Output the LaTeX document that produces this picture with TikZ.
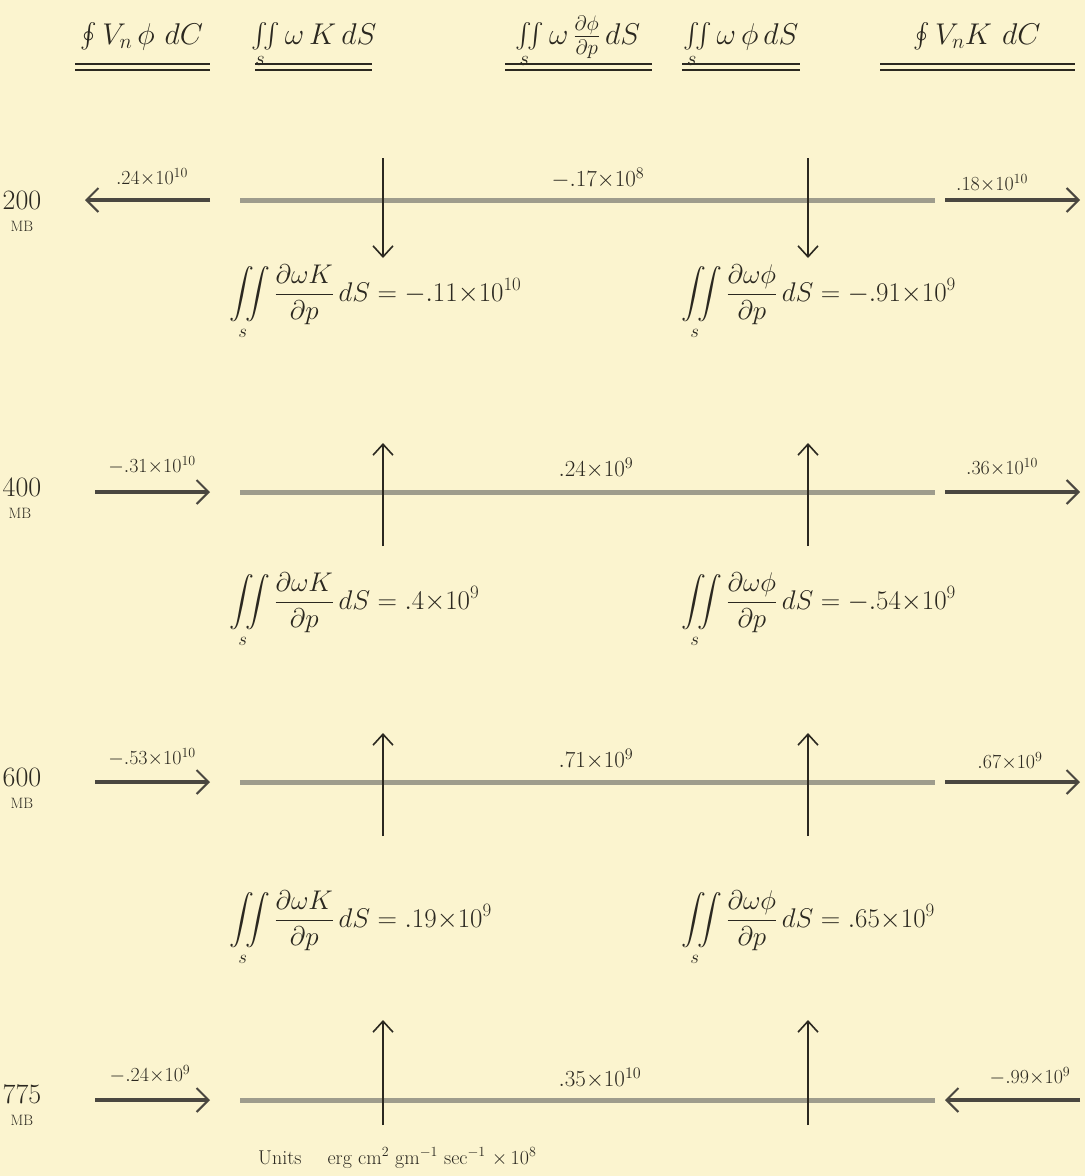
\RequirePackage{fix-cm}
\documentclass[tikz,border=0pt]{standalone}
\usepackage{amsmath}
\usetikzlibrary{arrows.meta}
\definecolor{paper}{HTML}{FBF4CF}
\definecolor{ink}{HTML}{2B2820}
\definecolor{levelgray}{HTML}{9E9C8C}
\definecolor{fluxgray}{HTML}{4A4740}
\begin{document}
\begin{tikzpicture}[x=1pt,y=-1pt,
  hdr/.style={text=ink,font=\fontsize{30}{34}\selectfont,inner sep=1pt,anchor=base},
  intlab/.style={text=ink,font=\fontsize{27}{30}\selectfont,inner sep=1pt,anchor=west},
  numlab/.style={text=ink,font=\fontsize{20}{24}\selectfont,inner sep=1pt},
  cenlab/.style={text=ink,font=\fontsize{23}{26}\selectfont,inner sep=1pt},
  plev/.style={text=ink,font=\fontsize{28}{30}\selectfont,inner sep=0pt},
  mb/.style={text=ink,font=\fontsize{15}{18}\selectfont,inner sep=0pt},
  ul/.style={ink,line width=2.2pt},
  levelline/.style={levelgray,line width=5pt},
  flux/.style={fluxgray,line width=3.5pt,-{Straight Barb[length=12pt,width=24pt,line width=2pt]}},
  vert/.style={ink,line width=1.8pt,-{Straight Barb[length=11pt,width=20pt,line width=1.6pt]}}]
\fill[paper] (0,0) rectangle (1085,1176);
\useasboundingbox (0,0) rectangle (1085,1176);

% header
\node[hdr] (h1) at (142,44) {$\oint V_n\,\phi\,\,dC$};
\node[hdr] (h2) at (314,44) {$\iint\limits_s \omega\, K\,dS$};
\node[hdr] (h3) at (578,44) {$\iint\limits_s \omega\,\frac{\partial\phi}{\partial p}\,dS$};
\node[hdr] (h4) at (741,44) {$\iint\limits_s \omega\,\phi\,dS$};
\node[hdr] (h5) at (977,44) {$\oint V_n K\,\,dC$};
\foreach \a/\b in {75/210,255/372,505/652,682/800,880/1075}{
  \draw[ul] (\a,64) -- (\b,64);
  \draw[ul] (\a,70) -- (\b,70);
}

% pressure level labels
\node[plev] (p200) at (22,200) {200};
\node[mb] (m200) at (22,226) {MB};
\node[plev] (p400) at (22,487) {400};
\node[mb] (m400) at (20,513) {MB};
\node[plev] (p600) at (22,777) {600};
\node[mb] (m600) at (22,803) {MB};
\node[plev] (p775) at (22,1094) {775};
\node[mb] (m775) at (22,1120) {MB};

% level lines
\foreach \n/\y in {a/200,b/492,c/782,d/1100}{
  \coordinate (L\n) at (240,\y);
  \coordinate (R\n) at (935,\y);
  \draw[levelline] (L\n) -- (R\n);
}

% ----- 200 MB
\coordinate (fa1s) at (210,200); \coordinate (fa1e) at (85,200);
\coordinate (fa2s) at (945,200); \coordinate (fa2e) at (1080,200);
\draw[flux] (fa1s) -- (fa1e);
\draw[flux] (fa2s) -- (fa2e);
\node[numlab] (na1) at (152,177) {$.24{\times}10^{10}$};
\node[numlab] (na2) at (992,183) {$.18{\times}10^{10}$};
\node[cenlab] (nac) at (598,178) {$-.17{\times}10^{8}$};
\coordinate (va1s) at (383,158); \coordinate (va1e) at (383,258);
\coordinate (va2s) at (808,158); \coordinate (va2e) at (808,258);
\draw[vert] (va1s) -- (va1e);
\draw[vert] (va2s) -- (va2e);

\node[intlab] (i1l) at (228,302) {$\displaystyle\iint\limits_s \frac{\partial\omega K}{\partial p}\,dS = -.11{\times}10^{10}$};
\node[intlab] (i1r) at (680,302) {$\displaystyle\iint\limits_s \frac{\partial\omega\phi}{\partial p}\,dS = -.91{\times}10^{9}$};

% ----- 400 MB
\coordinate (fb1s) at (95,492); \coordinate (fb1e) at (210,492);
\coordinate (fb2s) at (945,492); \coordinate (fb2e) at (1080,492);
\draw[flux] (fb1s) -- (fb1e);
\draw[flux] (fb2s) -- (fb2e);
\node[numlab] (nb1) at (152,465) {$-.31{\times}10^{10}$};
\node[numlab] (nb2) at (1002,467) {$.36{\times}10^{10}$};
\node[cenlab] (nbc) at (596,468) {$.24{\times}10^{9}$};
\coordinate (vb1s) at (383,546); \coordinate (vb1e) at (383,443);
\coordinate (vb2s) at (808,546); \coordinate (vb2e) at (808,443);
\draw[vert] (vb1s) -- (vb1e);
\draw[vert] (vb2s) -- (vb2e);

\node[intlab] (i2l) at (228,610) {$\displaystyle\iint\limits_s \frac{\partial\omega K}{\partial p}\,dS = .4{\times}10^{9}$};
\node[intlab] (i2r) at (680,610) {$\displaystyle\iint\limits_s \frac{\partial\omega\phi}{\partial p}\,dS = -.54{\times}10^{9}$};

% ----- 600 MB
\coordinate (fc1s) at (95,782); \coordinate (fc1e) at (210,782);
\coordinate (fc2s) at (945,782); \coordinate (fc2e) at (1080,782);
\draw[flux] (fc1s) -- (fc1e);
\draw[flux] (fc2s) -- (fc2e);
\node[numlab] (nc1) at (152,757) {$-.53{\times}10^{10}$};
\node[numlab] (nc2) at (1010,761) {$.67{\times}10^{9}$};
\node[cenlab] (ncc) at (596,759) {$.71{\times}10^{9}$};
\coordinate (vc1s) at (383,836); \coordinate (vc1e) at (383,733);
\coordinate (vc2s) at (808,836); \coordinate (vc2e) at (808,733);
\draw[vert] (vc1s) -- (vc1e);
\draw[vert] (vc2s) -- (vc2e);

\node[intlab] (i3l) at (228,928) {$\displaystyle\iint\limits_s \frac{\partial\omega K}{\partial p}\,dS = .19{\times}10^{9}$};
\node[intlab] (i3r) at (680,928) {$\displaystyle\iint\limits_s \frac{\partial\omega\phi}{\partial p}\,dS = .65{\times}10^{9}$};

% ----- 775 MB
\coordinate (fd1s) at (95,1100); \coordinate (fd1e) at (210,1100);
\coordinate (fd2s) at (1080,1100); \coordinate (fd2e) at (945,1100);
\draw[flux] (fd1s) -- (fd1e);
\draw[flux] (fd2s) -- (fd2e);
\node[numlab] (nd1) at (150,1074) {$-.24{\times}10^{9}$};
\node[numlab] (nd2) at (1030,1076) {$-.99{\times}10^{9}$};
\node[cenlab] (ndc) at (600,1078) {$.35{\times}10^{10}$};
\coordinate (vd1s) at (383,1125); \coordinate (vd1e) at (383,1020);
\coordinate (vd2s) at (808,1125); \coordinate (vd2e) at (808,1020);
\draw[vert] (vd1s) -- (vd1e);
\draw[vert] (vd2s) -- (vd2e);

% units
\node[text=ink,font=\fontsize{20}{24}\selectfont,anchor=west,inner sep=0pt] (units) at (258,1158)
  {Units\quad\ $\mathrm{erg}\ \mathrm{cm}^{2}\ \mathrm{gm}^{-1}\ \mathrm{sec}^{-1}\ {\times}\,10^{8}$};
\end{tikzpicture}
\end{document}
